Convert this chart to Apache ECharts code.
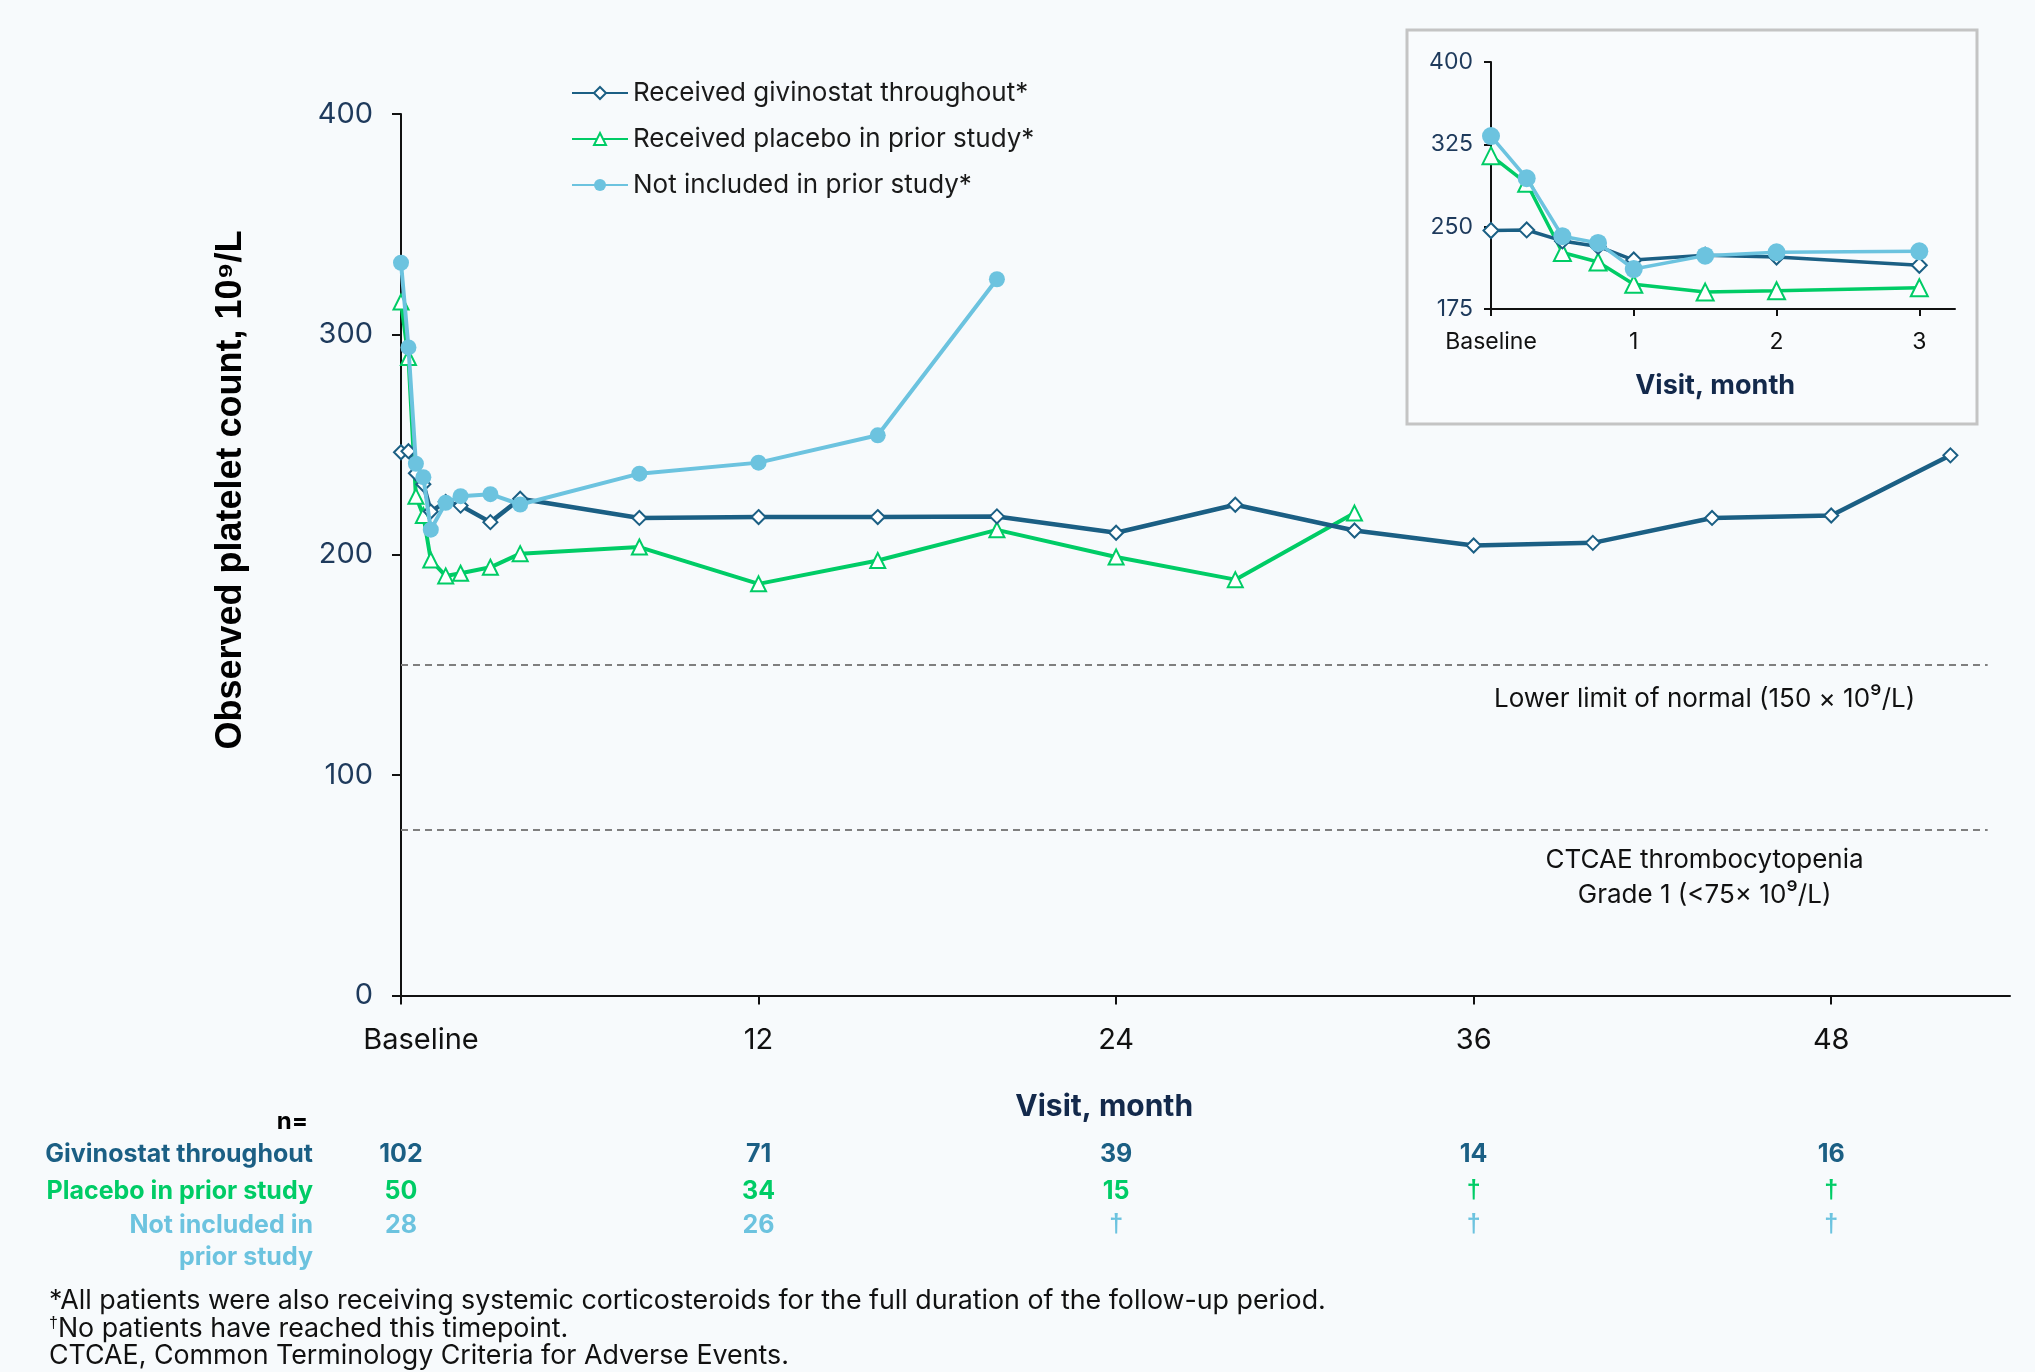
<!DOCTYPE html>
<html>
<head>
<meta charset="utf-8">
<title>Observed platelet count over time</title>
<script src="https://cdn.jsdelivr.net/npm/echarts@6/dist/echarts.min.js"></script>
<style>
  html, body { margin: 0; padding: 0; background: #f7fafc; }
  #chart { width: 2035px; height: 1372px; }
</style>
</head>
<body>
<div id="chart"></div>
<script>
  // visit month for every point (0 = baseline)
  const months = [0, 0.25, 0.5, 0.75, 1, 1.5, 2, 3, 4, 8, 12, 16, 20, 24, 28, 32, 36, 40, 44, 48, 52];
  // observed platelet count, 10^9/L
  const givinostat = [246.5, 247, 237, 232, 219.6, 224, 222.3, 214.8, 225.4, 216.7, 217.1, 217.1, 217.4, 210, 222.7, 211, 204.2, 205.4, 216.7, 217.8, 245.1];
  const placebo = [314.7, 289.5, 226.5, 217.8, 197.6, 190.4, 191.6, 194.3, 200.5, 203.5, 186.8, 197.4, 211.3, 199, 188.7, 218.9];
  const notIncluded = [332.5, 294.1, 241.3, 235.2, 211.4, 223.6, 226.6, 227.5, 222.8, 236.8, 241.8, 254.2, 325];

  const seriesNames = ['Received givinostat throughout*', 'Received placebo in prior study*', 'Not included in prior study*'];
  const xTicks = [0, 12, 24, 36, 48];
  const insetTicks = [0, 1, 2, 3];
  const refLines = [150, 75];

  // n= table under the x axis
  const nMonths = [0, 12, 24, 36, 48];
  const nGivinostat = ['102', '71', '39', '14', '16'];
  const nPlacebo = ['50', '34', '15', '†', '†'];
  const nNotIncluded = ['28', '26', '†', '†', '†'];

  const DARK = '#1b5f84';
  const GREEN = '#00cc66';
  const LIGHT = '#6cc3df';
  const NAVY = '#1e3a5c';
  const FONT = 'Inter';

  const toPoints = (vals, maxMonth) =>
    vals.map((v, i) => [months[i], v]).filter(p => p[1] != null && p[0] <= maxMonth);

  const chart = echarts.init(document.getElementById('chart'));

  const xAxisBase = (gridIndex, max, ticks, fs, margin, tickLen) => ({
    type: 'value',
    gridIndex: gridIndex,
    min: 0,
    max: max,
    axisLine: { show: true, onZero: false, lineStyle: { color: '#111', width: 2 } },
    axisTick: { show: true, customValues: ticks, length: tickLen, lineStyle: { color: '#111', width: 2 } },
    axisLabel: {
      customValues: ticks,
      fontSize: fs,
      color: '#111',
      margin: margin,
      formatter: v => (v === 0 ? '{b|Baseline}' : String(v)),
      rich: { b: { fontSize: fs, color: '#111', fontFamily: FONT, padding: gridIndex === 0 ? [0, 0, 0, 40] : 0 } },
    },
    splitLine: { show: false },
  });

  const yAxisBase = (gridIndex, min, max, interval, fs, margin, tickLen) => ({
    type: 'value',
    gridIndex: gridIndex,
    min: min,
    max: max,
    interval: interval,
    axisLine: { show: true, lineStyle: { color: '#111', width: 2 } },
    axisTick: { show: true, length: tickLen, lineStyle: { color: '#111', width: 2 } },
    axisLabel: { fontSize: fs, color: NAVY, margin: margin },
    splitLine: { show: false },
  });

  const lineSeries = (name, vals, color, symbol, size, width, gridIndex, maxMonth, z) => ({
    name: name,
    type: 'line',
    xAxisIndex: gridIndex,
    yAxisIndex: gridIndex,
    data: toPoints(vals, maxMonth),
    symbol: symbol,
    symbolSize: size,
    showAllSymbol: true,
    z: z,
    lineStyle: { color: color, width: width },
    itemStyle: { color: color, borderWidth: 2 },
  });

  const mainSeries = [
    lineSeries(seriesNames[0], givinostat, DARK, 'emptyDiamond', 14, 4.5, 0, 60, 3),
    lineSeries(seriesNames[1], placebo, GREEN, 'emptyTriangle', 15, 4, 0, 60, 2),
    lineSeries(seriesNames[2], notIncluded, LIGHT, 'circle', 16, 4, 0, 60, 4),
  ];
  mainSeries[0].markLine = {
    silent: true,
    symbol: 'none',
    label: { show: false },
    lineStyle: { type: [7, 5], color: '#7f7f7f', width: 2 },
    data: refLines.map(v => [{ coord: [0, v] }, { coord: [53.25, v] }]),
  };

  const insetSeries = [
    lineSeries(seriesNames[0], givinostat, DARK, 'emptyDiamond', 15, 3.5, 1, 3, 3),
    lineSeries(seriesNames[1], placebo, GREEN, 'emptyTriangle', 17, 3.5, 1, 3, 2),
    lineSeries(seriesNames[2], notIncluded, LIGHT, 'circle', 18, 3.5, 1, 3, 4),
  ];

  chart.setOption({
    animation: false,
    backgroundColor: '#f7fafc',
    textStyle: { fontFamily: FONT },
    legend: {
      data: seriesNames,
      orient: 'vertical',
      left: 566,
      top: 73,
      itemWidth: 56,
      itemHeight: 15,
      itemGap: 16,
      textStyle: { fontSize: 26, lineHeight: 30, color: '#1a1a1a' },
    },
    grid: [
      { left: 401, top: 114, width: 1609, height: 881.5 },
      { left: 1491, top: 62, width: 464, height: 247 },
    ],
    xAxis: [
      xAxisBase(0, 54, xTicks, 29, 30, 9),
      xAxisBase(1, 3.25, insetTicks, 23, 22, 7),
    ],
    yAxis: [
      yAxisBase(0, 0, 400, 100, 29, 28, 9),
      yAxisBase(1, 175, 400, 75, 23, 18, 7),
    ],
    series: mainSeries.concat(insetSeries),
  });

  // annotations and n= table, placed through the axes
  const px = (g, x, y) => chart.convertToPixel({ gridIndex: g }, [x, y]);
  const txt = (x, y, text, opts) => ({
    type: 'text',
    x: x,
    y: y,
    z: 10,
    style: Object.assign({
      text: text,
      fill: '#111',
      fontFamily: FONT,
      fontSize: 26,
      align: 'center',
      verticalAlign: 'middle',
    }, opts || {}),
  });

  const graphics = [];
  // inset frame
  graphics.push({
    type: 'rect',
    z: -10,
    shape: { x: 1407, y: 30, width: 570, height: 394 },
    style: { fill: '#f9fbfd', stroke: '#c4c4c4', lineWidth: 3 },
  });

  // y axis title
  graphics.push({
    type: 'text',
    x: 231,
    y: 490,
    rotation: Math.PI / 2,
    style: {
      text: 'Observed platelet count, 10⁹/L',
      fill: '#000',
      fontFamily: 'Liberation Sans',
      fontWeight: 'bold',
      fontSize: 36,
      align: 'center',
      verticalAlign: 'middle',
    },
  });

  // x axis titles
  const xMid = px(0, 23.6, 0);
  graphics.push(txt(xMid[0], 1107, 'Visit, month', { fontWeight: 'bold', fontSize: 30, fill: '#13294b' }));
  const insetMid = px(1, 1.57, 175);
  graphics.push(txt(insetMid[0], 386, 'Visit, month', { fontWeight: 'bold', fontSize: 27, fill: '#13294b' }));

  // reference line labels
  const llnPos = px(0, 43.75, refLines[0]);
  graphics.push(txt(llnPos[0], llnPos[1] + 34, 'Lower limit of normal (150 × 10⁹/L)'));
  const ctcPos = px(0, 43.75, refLines[1]);
  graphics.push(txt(ctcPos[0], ctcPos[1] + 30, 'CTCAE thrombocytopenia'));
  graphics.push(txt(ctcPos[0], ctcPos[1] + 65, 'Grade 1 (<75× 10⁹/L)'));

  // n= table
  const rowY = [1154, 1191, 1225];
  const rowColors = [DARK, GREEN, LIGHT];
  const rowVals = [nGivinostat, nPlacebo, nNotIncluded];
  const labelRight = 313;
  const bold = (size, fill, align) => ({ align: align || 'right', fontWeight: 'bold', fontSize: size, fill: fill });
  graphics.push(txt(308, 1122, 'n=', bold(24, '#000')));
  graphics.push(txt(labelRight, rowY[0], 'Givinostat throughout', bold(25, DARK)));
  graphics.push(txt(labelRight, rowY[1], 'Placebo in prior study', bold(25, GREEN)));
  graphics.push(txt(labelRight, rowY[2], 'Not included in', bold(25, LIGHT)));
  graphics.push(txt(labelRight, 1257, 'prior study', bold(25, LIGHT)));
  rowVals.forEach((vals, r) => {
    vals.forEach((v, i) => {
      const p = px(0, nMonths[i], 0);
      const st = bold(25, rowColors[r], 'center');
      // the dagger glyph in Inter is tiny, use a font with a full-height one
      if (v === '†') st.fontFamily = 'Liberation Sans';
      graphics.push(txt(p[0], rowY[r], v, st));
    });
  });

  // footnotes
  const foot = { align: 'left', fontSize: 26.8, fill: '#111' };
  graphics.push(txt(49, 1301, '*All patients were also receiving systemic corticosteroids for the full duration of the follow-up period.', foot));
  graphics.push(txt(49, 1329, '{s|†}No patients have reached this timepoint.', Object.assign({}, foot, {
    rich: { s: { fontSize: 16, fill: '#111', fontFamily: 'Liberation Sans', verticalAlign: 'top', padding: [0, 0, 10, 0] } },
  })));
  graphics.push(txt(49, 1356, 'CTCAE, Common Terminology Criteria for Adverse Events.', foot));

  chart.setOption({ graphic: { elements: graphics } });
</script>
</body>
</html>
